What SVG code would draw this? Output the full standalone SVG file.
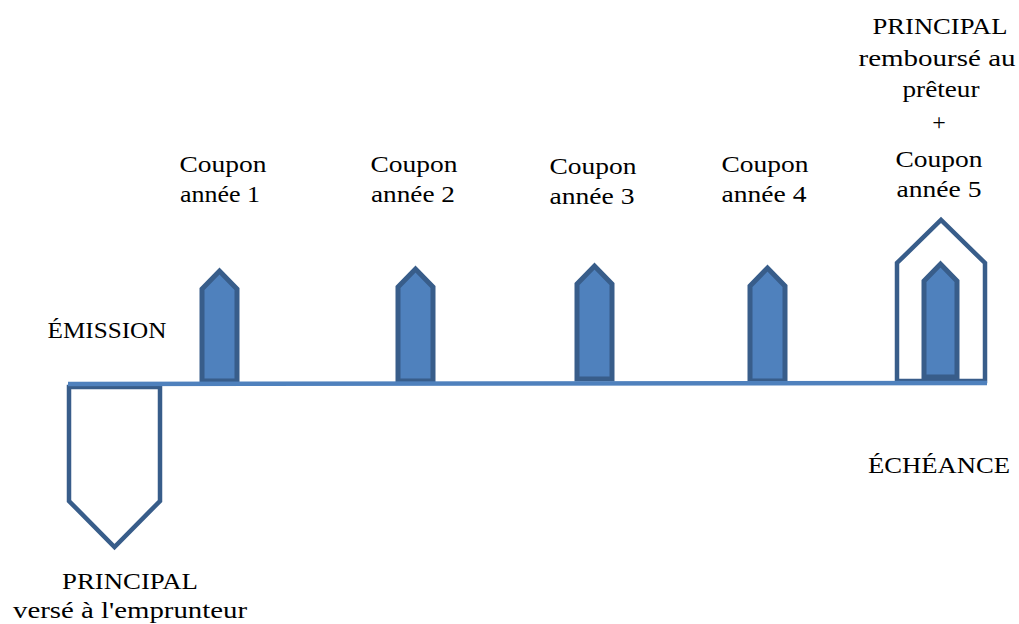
<svg xmlns="http://www.w3.org/2000/svg" width="1019" height="624" viewBox="0 0 1019 624">
<style>
.up{fill:#4F81BD;stroke:#385D8A;stroke-width:5;stroke-linejoin:miter}
.hollow{fill:#FFFFFF;stroke:#385D8A;stroke-width:4.5;stroke-linejoin:miter}
.axis{stroke:#4F81BD;stroke-width:4.5;fill:none}
</style>
<rect width="1019" height="624" fill="#FFFFFF"/>
<g font-family="Liberation Serif, DejaVu Serif, serif" font-size="24" fill="#000000" text-anchor="middle">
<g id="principal-verse">
<polygon class="hollow" points="69,387 160,387 160,501 114.5,547 69,501"/>
<text x="130" y="589" textLength="136" lengthAdjust="spacingAndGlyphs">PRINCIPAL</text>
<text x="130" y="618" textLength="234" lengthAdjust="spacingAndGlyphs">versé à l'emprunteur</text>
</g>
<g id="principal-rembourse">
<polygon class="hollow" points="897,381 897,263 941,220 985,263 985,381"/>
<text x="940" y="34" textLength="135" lengthAdjust="spacingAndGlyphs">PRINCIPAL</text>
<text x="937" y="66" textLength="157" lengthAdjust="spacingAndGlyphs">remboursé au</text>
<text x="941" y="97" textLength="77" lengthAdjust="spacingAndGlyphs">prêteur</text>
<text x="939" y="130">+</text>
</g>
<g id="coupon-1">
<polygon class="up" points="202,381 202,289 219.5,271 237,289 237,381"/>
<text x="223" y="172" textLength="87" lengthAdjust="spacingAndGlyphs">Coupon</text>
<text x="220" y="202" textLength="80" lengthAdjust="spacingAndGlyphs">année 1</text>
</g>
<g id="coupon-2">
<polygon class="up" points="398,381 398,287 415.5,269 433,287 433,381"/>
<text x="414" y="172" textLength="87" lengthAdjust="spacingAndGlyphs">Coupon</text>
<text x="413" y="202" textLength="84" lengthAdjust="spacingAndGlyphs">année 2</text>
</g>
<g id="coupon-3">
<polygon class="up" points="577,379 577,284 594.5,266 612,284 612,379"/>
<text x="593" y="174" textLength="87" lengthAdjust="spacingAndGlyphs">Coupon</text>
<text x="592" y="204" textLength="85" lengthAdjust="spacingAndGlyphs">année 3</text>
</g>
<g id="coupon-4">
<polygon class="up" points="750,381 750,286 767.5,268 785,286 785,381"/>
<text x="765" y="172" textLength="87" lengthAdjust="spacingAndGlyphs">Coupon</text>
<text x="764" y="202" textLength="85" lengthAdjust="spacingAndGlyphs">année 4</text>
</g>
<g id="coupon-5">
<polygon class="up" points="924,377 924,281 940.5,264 957,281 957,377"/>
<text x="939" y="167" textLength="87" lengthAdjust="spacingAndGlyphs">Coupon</text>
<text x="939" y="197" textLength="85" lengthAdjust="spacingAndGlyphs">année 5</text>
</g>
<g id="emission">
<text x="107" y="338" textLength="119" lengthAdjust="spacingAndGlyphs">ÉMISSION</text>
</g>
<g id="echeance">
<text x="939" y="473" textLength="142" lengthAdjust="spacingAndGlyphs">ÉCHÉANCE</text>
</g>
</g>
<g id="connectors">
<line class="axis" x1="68" y1="384" x2="987" y2="383"/>
</g>
</svg>
